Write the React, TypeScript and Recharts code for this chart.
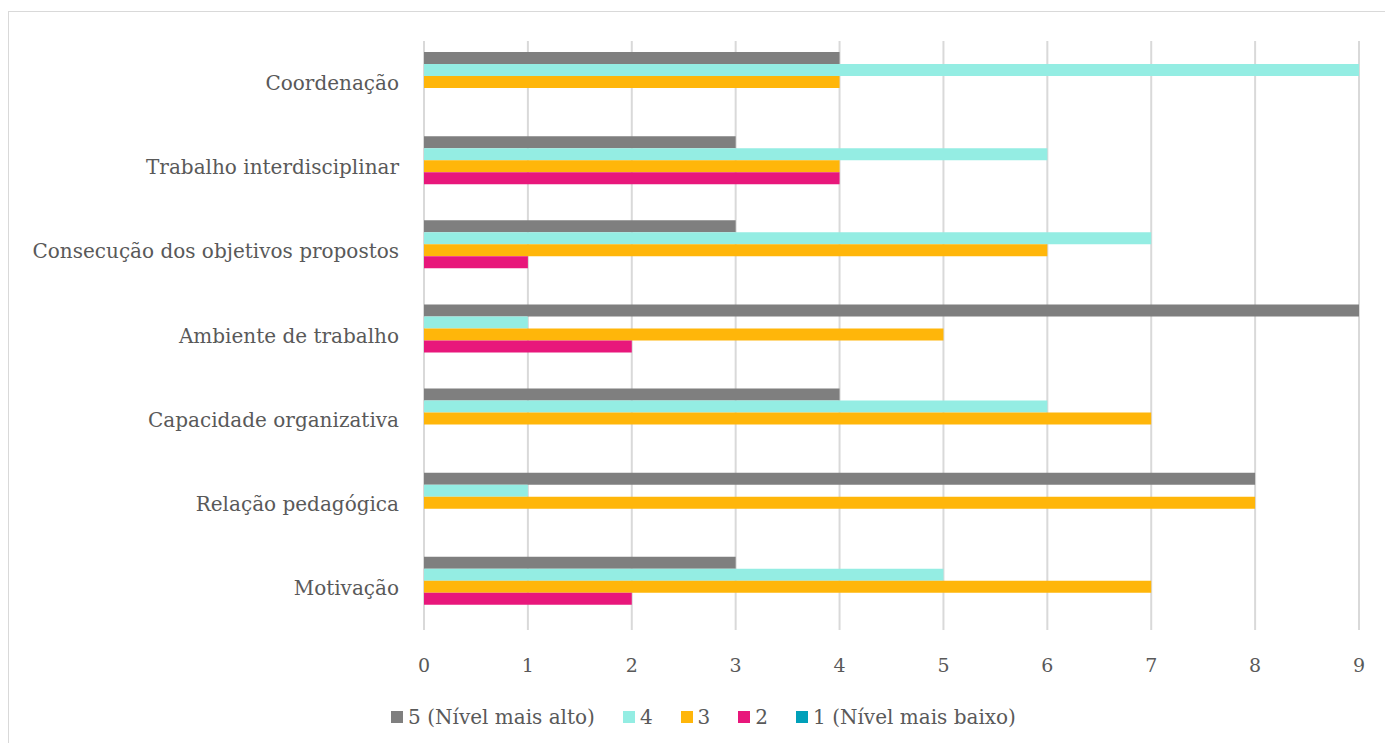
import React from 'react'
import {
  BarChart,
  Bar,
  XAxis,
  YAxis,
  CartesianGrid,
  Legend,
} from 'recharts'

const categories = [
  'Coordenação',
  'Trabalho interdisciplinar',
  'Consecução dos objetivos propostos',
  'Ambiente de trabalho',
  'Capacidade organizativa',
  'Relação pedagógica',
  'Motivação',
]

const nivel5 = [4, 3, 3, 9, 4, 8, 3]
const nivel4 = [9, 6, 7, 1, 6, 1, 5]
const nivel3 = [4, 4, 6, 5, 7, 8, 7]
const nivel2 = [0, 4, 1, 2, 0, 0, 2]
const nivel1 = [0, 0, 0, 0, 0, 0, 0]

const xTicks = [0, 1, 2, 3, 4, 5, 6, 7, 8, 9]

const series = [
  { key: 'n5', name: '5 (Nível mais alto)', color: '#7f7f7f', values: nivel5 },
  { key: 'n4', name: '4', color: '#94ede3', values: nivel4 },
  { key: 'n3', name: '3', color: '#ffb60a', values: nivel3 },
  { key: 'n2', name: '2', color: '#e8177b', values: nivel2 },
  { key: 'n1', name: '1 (Nível mais baixo)', color: '#00a0b9', values: nivel1 },
]

const data = categories.map((name, i) => {
  const row: Record<string, string | number> = { name }
  series.forEach((s) => {
    row[s.key] = s.values[i]
  })
  return row
})

const FONT = '"DejaVu Serif", serif'
const TEXT = '#595959'

// legend box is a fixed 24px tall so the plot bottom stays put
function LegendRow() {
  return (
    <div
      style={{
        display: 'flex',
        justifyContent: 'center',
        alignItems: 'center',
        height: 24,
        fontFamily: FONT,
        fontSize: 20,
        color: TEXT,
        paddingLeft: 50,
      }}
    >
      {series.map((s) => (
        <div
          key={s.key}
          style={{ display: 'flex', alignItems: 'center', marginRight: 28 }}
        >
          <span
            style={{
              display: 'inline-block',
              width: 12,
              height: 12,
              background: s.color,
              marginRight: 5,
            }}
          />
          <span>{s.name}</span>
        </div>
      ))}
    </div>
  )
}

export default function App() {
  return (
    <div
      style={{
        position: 'fixed',
        left: 0,
        top: 0,
        width: 1385,
        height: 743,
        overflow: 'hidden',
        background: '#fff',
      }}
    >
      <div
        style={{
          position: 'absolute',
          left: 8,
          top: 11,
          width: 1420,
          height: 780,
          border: '1.5px solid #d9d9d9',
        }}
      />
      <div style={{ position: 'absolute', left: 0, top: 0 }}>
        <BarChart
          width={1385}
          height={743}
          data={data}
          layout="vertical"
          margin={{ top: 41, right: 26, bottom: 0, left: 0 }}
          barGap={0}
          barCategoryGap={11}
        >
          <CartesianGrid
            horizontal={false}
            stroke="#d9d9d9"
            strokeWidth={2}
          />
          <XAxis
            type="number"
            domain={[0, 9]}
            ticks={xTicks}
            axisLine={false}
            tickLine={false}
            tickMargin={23}
            height={89}
            tick={{ fill: TEXT, fontFamily: FONT, fontSize: 19 }}
          />
          <YAxis
            type="category"
            dataKey="name"
            width={424}
            axisLine={false}
            tickLine={false}
            tickSize={0}
            tickMargin={25}
            tick={{ fill: TEXT, fontFamily: FONT, fontSize: 20 }}
          />
          <Legend
            verticalAlign="bottom"
            content={() => <LegendRow />}
            wrapperStyle={{ bottom: 14, left: 0, width: 1385 }}
          />
          {series.map((s) => (
            <Bar
              key={s.key}
              dataKey={s.key}
              name={s.name}
              fill={s.color}
              isAnimationActive={false}
            />
          ))}
        </BarChart>
      </div>
    </div>
  )
}
